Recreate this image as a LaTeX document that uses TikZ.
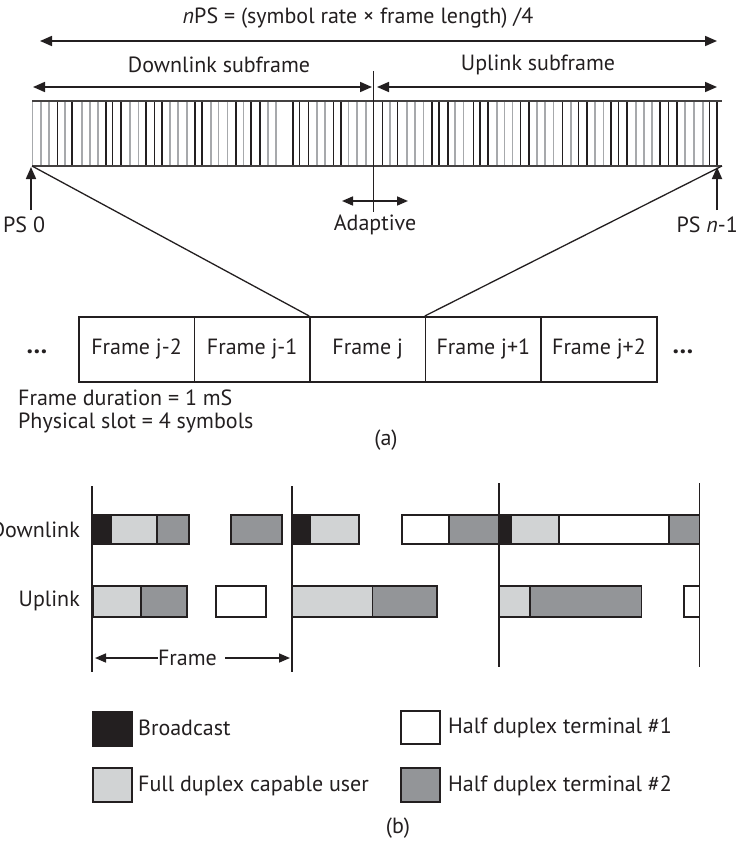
\documentclass[tikz,border=0pt]{standalone}
\usepackage{fontspec}
\setmainfont{PT Sans}
\usetikzlibrary{arrows.meta}
\definecolor{lg}{HTML}{D1D3D4}
\definecolor{dg}{HTML}{939598}
\definecolor{bk}{HTML}{231F20}
\definecolor{gl}{HTML}{A7A9AC}
\begin{document}
\begin{tikzpicture}[x=1pt,y=-1pt,
  font=\fontsize{22}{26}\selectfont,
  txt/.style={inner sep=0pt, text=bk},
  dbl/.style={line width=1.7pt, draw=bk, {Triangle[length=12pt,width=10pt]}-{Triangle[length=12pt,width=10pt]}},
  onearr/.style={line width=1.7pt, draw=bk, -{Triangle[length=12pt,width=10pt]}},
  thin/.style={line width=1.3pt, draw=bk},
  framebox/.style={draw=bk, line width=1.5pt, minimum width=115.6pt, minimum height=65pt, inner sep=0pt, anchor=north west, text=bk},
  seg/.style={draw=bk, line width=1.6pt},
  gline/.style={line width=1.6pt, draw=gl},
  kline/.style={line width=1.6pt, draw=bk},
  fline/.style={line width=1.2pt, draw=bk},
  dots/.style={inner sep=0pt, text=bk, font=\fontsize{26}{30}\selectfont\bfseries}]
\useasboundingbox (0,0) rectangle (739,843);

% ---------- (a) ----------
\node[txt] (title) at (358,18) {\textit{n}PS = (symbol rate × frame length) /4};
\coordinate (tl) at (40,41);
\coordinate (tr) at (717,41);
\draw[dbl] (tl) -- (tr);

\node[txt] (dls) at (219,65) {Downlink subframe};
\node[txt] (uls) at (538,65) {Uplink subframe};
\coordinate (dl1) at (33,87);
\coordinate (dl2) at (372,87);
\coordinate (ul1) at (377,87);
\coordinate (ul2) at (717,87);
\draw[dbl] (dl1) -- (dl2);
\draw[dbl] (ul1) -- (ul2);

% bar
\foreach \x in {32.3,41,49,65,81.7,90,97.7,130,138.3,169.7,177.7,186.7,211,218.3,227.3,243.3,267.7,276,316.7,325,348.3,356.7,365.7,390,406.7,415,423.3,455,463.3,496.7,504.3,512.3,536.7,545,553.3,570.7,595,603.3,635.7,644,651.7,685,694,702.7}
  \draw[gline] (\x,101) -- (\x,166);
\foreach \x in {57.3,71.7,106,112.3,121,145.7,154.3,161.7,195,201.7,236,250.7,260,292.7,299.3,308.3,333.3,341,382.3,397.3,431.7,439,447.7,473.3,480,487.7,520.3,529,562.3,578.3,586.7,611,618.3,626.7,660,668.3,676.7,709.3,716.7}
  \draw[kline] (\x,101) -- (\x,166);
\coordinate (bartl) at (32,101);
\coordinate (bartr) at (722,101);
\coordinate (barbl) at (32,166);
\coordinate (barbr) at (722,166);
\draw[line width=1.6pt, draw=bk!85] (bartl) -- (bartr);
\draw[line width=1.6pt, draw=bk!85] (barbl) -- (barbr);

% adaptive
\coordinate (adt) at (373.5,71);
\coordinate (adb) at (373.5,212);
\draw[kline] (adt) -- (adb);
\coordinate (aa1) at (342,201);
\coordinate (aa2) at (408,201);
\draw[dbl, {Triangle[length=11pt,width=9pt]}-{Triangle[length=11pt,width=9pt]}] (aa1) -- (aa2);
\node[txt] (adapt) at (375,225) {Adaptive};

% PS labels
\coordinate (ps0b) at (31,210);
\coordinate (ps0t) at (31,167);
\draw[onearr] (ps0b) -- (ps0t);
\node[txt, anchor=west] (ps0) at (3,225) {PS 0};
\coordinate (psnb) at (717,210);
\coordinate (psnt) at (717,167);
\draw[onearr] (psnb) -- (psnt);
\node[txt, anchor=east] (psn) at (738,225) {PS \textit{n}-1};

% frame boxes
\node[framebox] (fjm2) at (78,316) {Frame j-2};
\node[framebox] (fjm1) at (193.6,316) {Frame j-1};
\node[framebox] (fj)   at (309.2,316) {Frame j};
\node[framebox] (fjp1) at (424.8,316) {Frame j+1};
\node[framebox] (fjp2) at (540.4,316) {Frame j+2};
\draw[thin] (barbl) -- (fj.north west);
\draw[thin] (barbr) -- (fjp1.north west);
\node[dots] (dotsl) at (37,352) {…};
\node[dots] (dotsr) at (683,352) {…};

\node[txt, anchor=west] (fdur) at (18,398) {Frame duration = 1 mS};
\node[txt, anchor=west] (pslot) at (18,423) {Physical slot = 4 symbols};
\node[txt] (lbla) at (386,440) {(a)};

% ---------- (b) ----------
\coordinate (f1t) at (92,486);  \coordinate (f1b) at (92,672);
\coordinate (f2t) at (292,486); \coordinate (f2b) at (292,672);
\coordinate (f3t) at (499,483); \coordinate (f3b) at (499,667);
\coordinate (f4t) at (699.5,483); \coordinate (f4b) at (699.5,667);
\draw[fline] (f1t) -- (f1b);
\draw[fline] (f2t) -- (f2b);
\draw[fline] (f3t) -- (f3b);
\draw[fline] (f4t) -- (f4b);

\node[txt, anchor=east] (dlk) at (80,530) {Downlink};
\node[txt, anchor=east] (ulk) at (80,601) {Uplink};

% downlink row
\draw[seg, fill=bk] (92,515) rectangle (111,544);
\draw[seg, fill=lg] (111,515) rectangle (157,544);
\draw[seg, fill=dg] (157,515) rectangle (189,544);
\draw[seg, fill=dg] (231,515) rectangle (282,544);
\draw[seg, fill=bk] (292,515) rectangle (310,544);
\draw[seg, fill=lg] (310,515) rectangle (359,544);
\draw[seg, fill=white] (402,515) rectangle (449,544);
\draw[seg, fill=dg] (449,515) rectangle (499,544);
\draw[seg, fill=bk] (499,515) rectangle (511,544);
\draw[seg, fill=lg] (511,515) rectangle (559,544);
\draw[seg, fill=white] (559,515) rectangle (669,544);
\draw[seg, fill=dg] (669,515) rectangle (699.5,544);

% uplink row
\draw[seg, fill=lg] (93,586) rectangle (141,617);
\draw[seg, fill=dg] (141,586) rectangle (187,617);
\draw[seg, fill=white] (216,586) rectangle (266,617);
\draw[seg, fill=lg] (292,586) rectangle (372.6,617);
\draw[seg, fill=dg] (372.6,586) rectangle (437,617);
\draw[seg, fill=lg] (499,586) rectangle (530,617);
\draw[seg, fill=dg] (530,586) rectangle (641.5,617);
\draw[seg, fill=white] (684,586) rectangle (699.5,617);

% frame arrow
\node[txt] (frm) at (187.5,658) {Frame};
\coordinate (fal) at (95,658);
\coordinate (far) at (290,658);
\draw[line width=1.6pt, draw=bk, -{Triangle[length=11pt,width=9pt]}] (frm.west) -- (fal);
\draw[line width=1.6pt, draw=bk, -{Triangle[length=11pt,width=9pt]}] ([xshift=8pt]frm.east) -- (far);

% legend
\draw[seg, fill=bk] (93,712) rectangle (132,746);
\node[txt, anchor=west] (lgb) at (138,728) {Broadcast};
\draw[seg, fill=lg] (93,768) rectangle (132,802);
\node[txt, anchor=west] (lgf) at (138,786) {Full duplex capable user};
\draw[seg, fill=white] (401,711) rectangle (440,744);
\node[txt, anchor=west] (lgh1) at (448,728) {Half duplex terminal \#1};
\draw[seg, fill=dg] (401,768) rectangle (440,802);
\node[txt, anchor=west] (lgh2) at (448,786) {Half duplex terminal \#2};
\node[txt] (lblb) at (398,828) {(b)};
\end{tikzpicture}
\end{document}
